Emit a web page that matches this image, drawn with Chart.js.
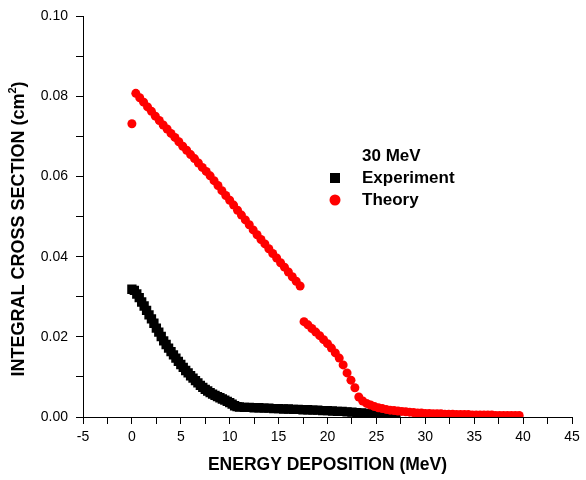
<!DOCTYPE html>
<html lang="en">
<head>
<meta charset="UTF-8">
<title>Integral cross section vs energy deposition</title>
<script src="https://cdn.jsdelivr.net/npm/chart.js"></script>
<style>
  html, body { margin: 0; padding: 0; background: #fff; }
  #wrap { width: 586px; height: 480px; }
</style>
</head>
<body>
<div id="wrap"><canvas id="crossChart" width="586" height="480"></canvas></div>
<script>
// experiment (black squares)
var expX = [0, 0.25, 0.5, 0.75, 1, 1.25, 1.5, 1.75, 2, 2.25, 2.5, 2.75, 3, 3.25, 3.5, 3.75,
  4, 4.25, 4.5, 4.75, 5, 5.25, 5.5, 5.75, 6, 6.25, 6.5, 6.75, 7, 7.25, 7.5, 7.75,
  8, 8.25, 8.5, 8.75, 9, 9.25, 9.5, 9.75, 10, 10.25, 10.5, 10.75, 11,
  11.5, 12, 12.5, 13, 13.5, 14, 14.5, 15, 15.5, 16, 16.5, 17, 17.5, 18, 18.5, 19, 19.5,
  20, 20.5, 21, 21.5, 22, 22.5, 23, 23.5, 24, 24.5, 25, 25.5, 26, 26.5, 27];
var expY = [0.0319, 0.0316, 0.0307, 0.0298, 0.0287, 0.0277, 0.0266, 0.0255, 0.0245, 0.0234, 0.0222, 0.0212, 0.0201, 0.0190, 0.0181, 0.0172,
  0.0163, 0.0155, 0.0147, 0.0139, 0.0131, 0.0124, 0.0116, 0.0110, 0.0103, 0.0097, 0.0091, 0.0085, 0.0079, 0.0074, 0.0069, 0.0065,
  0.0061, 0.0057, 0.0054, 0.0051, 0.0048, 0.0045, 0.0042, 0.0039, 0.0036, 0.0032, 0.0028, 0.0026, 0.0025,
  0.0024, 0.0024, 0.0023, 0.0023, 0.0022, 0.0022, 0.0021, 0.0021, 0.0020, 0.0020, 0.0019, 0.0019, 0.0018, 0.0018, 0.0017, 0.0017, 0.0016,
  0.0016, 0.0015, 0.0014, 0.0014, 0.0013, 0.0012, 0.0011, 0.0010, 0.0009, 0.0008, 0.0007, 0.0005, 0.0004, 0.0002, 0.0001];

// theory (red circles)
var theoryX = [0, 0.4, 0.8, 1.2, 1.6, 2, 2.4, 2.8, 3.2, 3.6, 4, 4.4, 4.8, 5.2, 5.6, 6, 6.4, 6.8, 7.2, 7.6,
  8, 8.4, 8.8, 9.2, 9.6, 10, 10.4, 10.8, 11.2, 11.6, 12, 12.4, 12.8, 13.2, 13.6, 14, 14.4, 14.8, 15.2, 15.6,
  16, 16.4, 16.8, 17.2, 17.6, 18, 18.4, 18.8, 19.2, 19.6, 20, 20.4, 20.8, 21.2, 21.6, 22, 22.4, 22.8, 23.2, 23.6,
  24, 24.4, 24.8, 25.2, 25.6, 26, 26.4, 26.8, 27.2, 27.6, 28, 28.4, 28.8, 29.2, 29.6, 30, 30.4, 30.8, 31.2, 31.6,
  32, 32.4, 32.8, 33.2, 33.6, 34, 34.4, 34.8, 35.2, 35.6, 36, 36.4, 36.8, 37.2, 37.6, 38, 38.4, 38.8, 39.2, 39.6];
var theoryY = [0.0732, 0.0808, 0.0797, 0.0786, 0.0774, 0.0763, 0.0751, 0.0740, 0.0729, 0.0719, 0.0708, 0.0698, 0.0687, 0.0676, 0.0666, 0.0655, 0.0645, 0.0634, 0.0623, 0.0613,
  0.0602, 0.0590, 0.0578, 0.0565, 0.0553, 0.0541, 0.0529, 0.0516, 0.0504, 0.0492, 0.0480, 0.0467, 0.0455, 0.0443, 0.0432, 0.0420, 0.0408, 0.0397, 0.0385, 0.0374,
  0.0362, 0.0350, 0.0339, 0.0327, 0.0238, 0.0230, 0.0221, 0.0212, 0.0203, 0.0193, 0.0183, 0.0172, 0.0160, 0.0147, 0.0130, 0.0110, 0.0092, 0.0073, 0.0050, 0.0040,
  0.0034, 0.0030, 0.0026, 0.0023, 0.0021, 0.0019, 0.0017, 0.0016, 0.0015, 0.0014, 0.0013, 0.0012, 0.0011, 0.0010, 0.0010, 0.0009, 0.0009, 0.0008, 0.0008, 0.0008,
  0.0007, 0.0007, 0.0007, 0.0006, 0.0006, 0.0006, 0.0006, 0.0005, 0.0005, 0.0005, 0.0005, 0.0005, 0.0005, 0.0004, 0.0004, 0.0004, 0.0004, 0.0004, 0.0004, 0.0004];

var seriesLabels = ['Experiment', 'Theory'];
var legendTitle = '30 MeV';
var xMajorTicks = [-5, 0, 5, 10, 15, 20, 25, 30, 35, 40, 45];
var yMajorTicks = ['0.00', '0.02', '0.04', '0.06', '0.08', '0.10'];

var FONT = "'Liberation Sans', Arial, sans-serif";

function toPoints(xs, ys) {
  return xs.map(function (x, i) { return { x: x, y: ys[i] }; });
}

// y title with a real superscript, plus the small legend in the middle of the plot
var annotations = {
  id: 'annotations',
  afterDraw: function (chart) {
    var ctx = chart.ctx;
    ctx.save();
    ctx.fillStyle = '#000';

    // y axis title
    ctx.translate(19, 229);
    ctx.rotate(-Math.PI / 2);
    ctx.textBaseline = 'middle';
    var main = 'INTEGRAL CROSS SECTION (cm';
    ctx.font = 'bold 18px ' + FONT;
    var w1 = ctx.measureText(main).width;
    ctx.font = 'bold 11px ' + FONT;
    var w2 = ctx.measureText('2').width;
    ctx.font = 'bold 18px ' + FONT;
    var w3 = ctx.measureText(')').width;
    var start = -(w1 + w2 + w3) / 2;
    ctx.textAlign = 'left';
    ctx.fillText(main, start, 0);
    ctx.font = 'bold 11px ' + FONT;
    ctx.fillText('2', start + w1, -6);
    ctx.font = 'bold 18px ' + FONT;
    ctx.fillText(')', start + w1 + w2, 0);
    ctx.setTransform(1, 0, 0, 1, 0, 0);

    // legend
    ctx.font = 'bold 17px ' + FONT;
    ctx.textAlign = 'left';
    ctx.textBaseline = 'middle';
    ctx.fillStyle = '#000';
    ctx.fillText(legendTitle, 362, 156);
    ctx.fillRect(330, 173, 10, 10);
    ctx.fillText(seriesLabels[0], 362, 178);
    ctx.fillStyle = '#ff0000';
    ctx.beginPath();
    ctx.arc(335, 200, 5.5, 0, Math.PI * 2);
    ctx.fill();
    ctx.fillStyle = '#000';
    ctx.fillText(seriesLabels[1], 362, 200);
    ctx.restore();
  }
};

var ctx = document.getElementById('crossChart').getContext('2d');
var crossChart = new Chart(ctx, {
  type: 'scatter',
  data: {
    datasets: [{
      label: seriesLabels[0],
      data: toPoints(expX, expY),
      pointStyle: 'rect',
      pointRadius: 6.6,
      pointBorderWidth: 0,
      backgroundColor: '#000000',
      borderColor: '#000000',
      order: 2
    }, {
      label: seriesLabels[1],
      data: toPoints(theoryX, theoryY),
      pointStyle: 'circle',
      pointRadius: 4.5,
      pointBorderWidth: 0,
      backgroundColor: '#ff0000',
      borderColor: '#ff0000',
      order: 1
    }]
  },
  options: {
    responsive: false,
    animation: false,
    layout: { padding: { left: 0, top: 16, right: 14, bottom: 0 } },
    plugins: { legend: { display: false }, tooltip: { enabled: false } },
    scales: {
      x: {
        type: 'linear',
        min: -5,
        max: 45,
        afterFit: function (scale) { scale.height = 63; },
        border: { display: true, color: '#000', width: 1 },
        grid: { drawOnChartArea: false, tickLength: 7, color: '#000', tickColor: '#000' },
        ticks: {
          stepSize: 2.5,
          autoSkip: false,
          maxRotation: 0,
          padding: 5,
          color: '#000',
          font: { family: FONT, size: 14 },
          callback: function (value) {
            return xMajorTicks.indexOf(value) >= 0 ? String(value) : '';
          }
        },
        title: {
          display: true,
          text: 'ENERGY DEPOSITION (MeV)',
          color: '#000',
          font: { family: FONT, size: 17.5, weight: 'bold' },
          padding: { top: 0, bottom: 4.5 }
        }
      },
      y: {
        type: 'linear',
        min: 0,
        max: 0.1,
        afterFit: function (scale) { scale.width = 83; },
        border: { display: true, color: '#000', width: 1 },
        grid: { drawOnChartArea: false, tickLength: 7, color: '#000', tickColor: '#000' },
        ticks: {
          stepSize: 0.01,
          autoSkip: false,
          padding: 8,
          color: '#000',
          font: { family: FONT, size: 14 },
          callback: function (value) {
            var s = value.toFixed(2);
            return yMajorTicks.indexOf(s) >= 0 ? s : '';
          }
        }
      }
    }
  },
  plugins: [annotations]
});
</script>
</body>
</html>
